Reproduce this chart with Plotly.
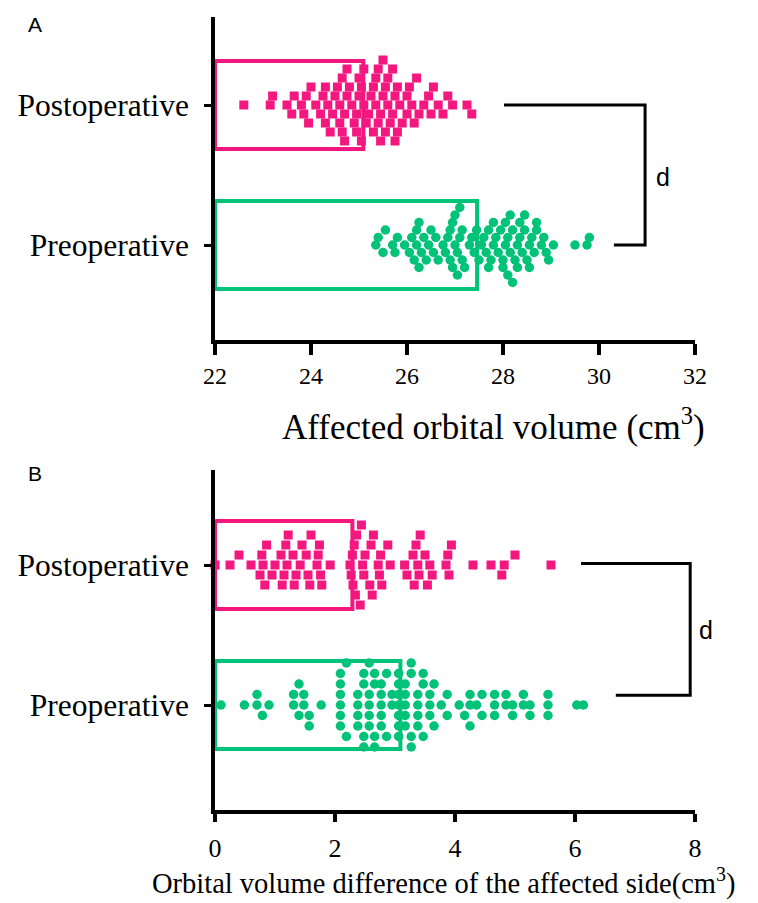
import plotly.graph_objects as go

# ---------------- data ----------------
categories = ["Preoperative", "Postoperative"]

# Panel A: affected orbital volume (cm3)
a_post = [22.6, 23.15, 23.2, 23.5, 23.6, 23.65,
          23.8, 23.85, 23.9, 23.95, 24.0, 24.1, 24.2,
          24.25, 24.3, 24.3, 24.35, 24.4, 24.45,
          24.5, 24.55, 24.6, 24.6, 24.65, 24.65, 24.7, 24.7, 24.75, 24.75, 24.8, 24.85,
          24.9, 24.95, 24.95, 25.0, 25.0, 25.05, 25.05, 25.1, 25.1, 25.15,
          25.2, 25.25, 25.3, 25.3, 25.35, 25.35, 25.4, 25.4, 25.45, 25.45,
          25.5, 25.5, 25.55, 25.55,
          25.6, 25.6, 25.65, 25.7, 25.7, 25.75, 25.75, 25.8, 25.8, 25.85,
          25.9, 26.0, 26.0, 26.05, 26.1, 26.15, 26.2, 26.25,
          26.35, 26.45, 26.5, 26.55, 26.65, 26.75, 26.85, 26.95, 27.25, 27.35]
a_pre = [25.35, 25.4, 25.5, 25.55, 25.7, 25.75, 25.8, 25.95, 26.05,
         26.1, 26.15, 26.2, 26.2, 26.25, 26.25, 26.3, 26.35,
         26.4, 26.45, 26.5, 26.55, 26.6, 26.65,
         26.75, 26.8, 26.85, 26.9, 26.9, 26.95, 26.95, 27.0, 27.0,
         27.05, 27.05, 27.1, 27.1, 27.15, 27.15, 27.2,
         27.3, 27.35, 27.4, 27.45, 27.5, 27.55,
         27.6, 27.65, 27.7, 27.7, 27.75, 27.8, 27.8, 27.85, 27.9,
         27.95, 28.0, 28.0, 28.05, 28.05, 28.1, 28.1, 28.15, 28.15, 28.2, 28.2,
         28.25, 28.3, 28.3, 28.35, 28.35, 28.4, 28.45, 28.45,
         28.5, 28.55, 28.55, 28.6, 28.65, 28.7, 28.7,
         28.8, 28.85, 28.9, 28.95, 29.05, 29.5, 29.75, 29.8]
a_means = {"Postoperative": 25.09, "Preoperative": 27.46}

# Panel B: orbital volume difference of the affected side (cm3)
b_post = [0.0, 0.25, 0.4, 0.6, 0.75, 0.78, 0.8, 0.83, 0.86, 0.95, 1.0,
          1.1, 1.12, 1.15, 1.18, 1.2, 1.22, 1.3, 1.32, 1.35, 1.42, 1.45,
          1.52, 1.55, 1.58, 1.6, 1.7, 1.72, 1.74, 1.76, 1.78, 1.92,
          2.25, 2.27, 2.29, 2.3, 2.32, 2.34, 2.36,
          2.42, 2.44, 2.46, 2.48, 2.5, 2.58, 2.6, 2.62, 2.64,
          2.72, 2.74, 2.76, 2.78, 2.88, 2.92, 3.16, 3.2,
          3.3, 3.32, 3.35, 3.38, 3.4, 3.42, 3.5, 3.54, 3.58, 3.62,
          3.85, 3.88, 3.9, 3.94, 4.3, 4.6, 4.78, 4.82, 5.0, 5.6]
b_pre = [0.1, 0.49, 0.7, 0.7, 0.79, 0.9, 1.31, 1.31, 1.4, 1.4, 1.48, 1.48,
         1.57, 1.57, 1.77, 2.09, 2.09, 2.09, 2.09, 2.09, 2.09, 2.19, 2.19,
         2.38, 2.38, 2.38, 2.38, 2.48, 2.48, 2.48, 2.48,
         2.57, 2.57, 2.57, 2.57, 2.57, 2.66, 2.66, 2.66, 2.66,
         2.77, 2.77, 2.77, 2.77, 2.77, 2.86, 2.86, 2.95, 2.95,
         3.06, 3.06, 3.06, 3.06, 3.06, 3.06, 3.06,
         3.17, 3.17, 3.17, 3.17, 3.17, 3.27, 3.27, 3.27, 3.27,
         3.38, 3.38, 3.38, 3.38, 3.47, 3.47, 3.47, 3.58, 3.58, 3.58,
         3.65, 3.65, 3.77, 3.87, 3.87, 4.07, 4.16, 4.25, 4.25, 4.25, 4.36,
         4.45, 4.45, 4.66, 4.66, 4.66, 4.85, 4.85, 4.96, 4.96,
         5.14, 5.14, 5.25, 5.25, 5.55, 5.55, 5.55, 6.03, 6.14]
b_means = {"Postoperative": 2.29, "Preoperative": 3.09}

a_ticks = [22, 24, 26, 28, 30, 32]
b_ticks = [0, 2, 4, 6, 8]

PINK = "#F4177F"
GREEN = "#00C278"

# ---------------- layout geometry (px, in page coordinates) ----------------
W, H = 758, 903
BODY = 8            # default page margin around the plot div
PL, PR = 203, 695
A_TOP, A_BOT = 17, 340
B_TOP, B_BOT = 470, 810
CAT_PX = 140.0      # px between category centres

a_range = [22, 32]
b_range = [0, 8]
a_yr = [-(A_BOT - 245) / CAT_PX, 1 + (105 - A_TOP) / CAT_PX]
b_yr = [-(B_BOT - 705) / CAT_PX, 1 + (565 - B_TOP) / CAT_PX]
plot_h = B_BOT - A_TOP


def swarm(values, px_per_x, excl, step):
    """Row-based swarm: offsets (category units) so that markers in a row
    are at least `excl` px apart; rows are `step` px apart."""
    order = sorted(range(len(values)), key=lambda i: values[i])
    rows = {}
    offs = [0.0] * len(values)
    flip = 1
    for i in order:
        x = values[i] * px_per_x
        k = 0
        found = None
        while found is None:
            cands = [0] if k == 0 else [flip * k, -flip * k]
            for c in cands:
                if all(abs(x - px) >= excl for px in rows.get(c, [])):
                    found = c
                    break
            k += 1
        if found != 0:
            flip = -flip
        rows.setdefault(found, []).append(x)
        offs[i] = found * step / CAT_PX
    return offs


a_ppx = (PR - PL) / (a_range[1] - a_range[0])
b_ppx = (PR - PL) / (b_range[1] - b_range[0])

fig = go.Figure()

panels = [
    ("x", "y", a_post, a_pre, a_means, a_range[0], a_ppx, (10.0, 9.0), (12.0, 7.5)),
    ("x2", "y2", b_post, b_pre, b_means, b_range[0], b_ppx, (12.0, 10.0), (6.5, 10.5)),
]

for xa, ya, post, pre, means, base, ppx, sp_post, sp_pre in panels:
    for cat, col in (("Postoperative", PINK), ("Preoperative", GREEN)):
        yv = categories.index(cat)
        fig.add_trace(go.Bar(
            x=[means[cat] - base], y=[yv], base=[base], orientation="h", width=0.63,
            marker=dict(color="rgba(0,0,0,0)", line=dict(color=col, width=4)),
            xaxis=xa, yaxis=ya, showlegend=False, hoverinfo="skip"))
    po = swarm(post, ppx, *sp_post)
    pr = swarm(pre, ppx, *sp_pre)
    fig.add_trace(go.Scatter(
        x=post, y=[1 + o for o in po], mode="markers", cliponaxis=False,
        marker=dict(symbol="square", size=9, color=PINK, line=dict(width=0)),
        xaxis=xa, yaxis=ya, showlegend=False))
    fig.add_trace(go.Scatter(
        x=pre, y=[0 + o for o in pr], mode="markers", cliponaxis=False,
        marker=dict(symbol="circle", size=9.5, color=GREEN, line=dict(width=0)),
        xaxis=xa, yaxis=ya, showlegend=False))

serif = "Liberation Serif, Times New Roman, serif"
sans = "Liberation Sans, Arial, sans-serif"

common_x = dict(showline=True, linecolor="black", linewidth=3.5, ticks="outside",
                tickwidth=3.5, tickcolor="black", showgrid=False, zeroline=False,
                fixedrange=True)
common_y = dict(showline=True, linecolor="black", linewidth=3.5, ticks="outside",
                ticklen=7, tickwidth=3, tickcolor="black", showgrid=False, zeroline=False,
                tickvals=[0, 1], ticktext=categories, ticklabelstandoff=9,
                tickfont=dict(family=serif, size=31.5, color="black"))

a_dom = [(B_BOT - A_BOT) / plot_h, 1.0]
b_dom = [0.0, (B_BOT - B_TOP) / plot_h]

fig.update_layout(
    width=W - BODY, height=H - BODY, autosize=False,
    margin=dict(l=PL - BODY, r=W - PR, t=A_TOP - BODY, b=H - B_BOT, pad=0),
    paper_bgcolor="white", plot_bgcolor="white", barmode="overlay",
    xaxis=dict(common_x, range=a_range, tickvals=a_ticks, ticklen=11,
               ticklabelstandoff=0, anchor="y",
               tickfont=dict(family=serif, size=24, color="black")),
    yaxis=dict(common_y, range=a_yr, domain=a_dom, anchor="x"),
    xaxis2=dict(common_x, range=b_range, tickvals=b_ticks, ticklen=8,
                ticklabelstandoff=4, anchor="y2",
                tickfont=dict(family=serif, size=26, color="black")),
    yaxis2=dict(common_y, range=b_yr, domain=b_dom, anchor="x2"),
)

# significance brackets
fig.add_shape(type="path", xref="x", yref="y",
              path="M 28.02,1 L 30.96,1 L 30.96,0 L 30.31,0",
              line=dict(color="black", width=3))
fig.add_shape(type="path", xref="x2", yref="y2",
              path="M 6.10,1.01 L 7.92,1.01 L 7.92,0.07 L 6.68,0.07",
              line=dict(color="black", width=3))


def px2paper_x(px):
    return (px - PL) / (PR - PL)


def px2paper_y(py):
    return (B_BOT - py) / plot_h


annots = [
    dict(text="d", x=px2paper_x(662), y=px2paper_y(177), font=dict(family=sans, size=25)),
    dict(text="d", x=px2paper_x(706), y=px2paper_y(630), font=dict(family=sans, size=25)),
    dict(text="A", x=px2paper_x(18), y=px2paper_y(24), font=dict(family=sans, size=21)),
    dict(text="B", x=px2paper_x(18), y=px2paper_y(473), font=dict(family=sans, size=21)),
    dict(text="Affected orbital volume (cm<sup>3</sup>)", x=px2paper_x(488),
         y=px2paper_y(424), font=dict(family=serif, size=35)),
    dict(text="Orbital volume difference of the affected side(cm<sup>3</sup>)",
         x=px2paper_x(437), y=px2paper_y(882), font=dict(family=serif, size=28.5)),
]
for a in annots:
    fig.add_annotation(xref="paper", yref="paper", showarrow=False,
                       xanchor="center", yanchor="middle",
                       x=a["x"], y=a["y"], text=a["text"],
                       font=dict(color="black", **a["font"]))

fig.write_html("out.html")
